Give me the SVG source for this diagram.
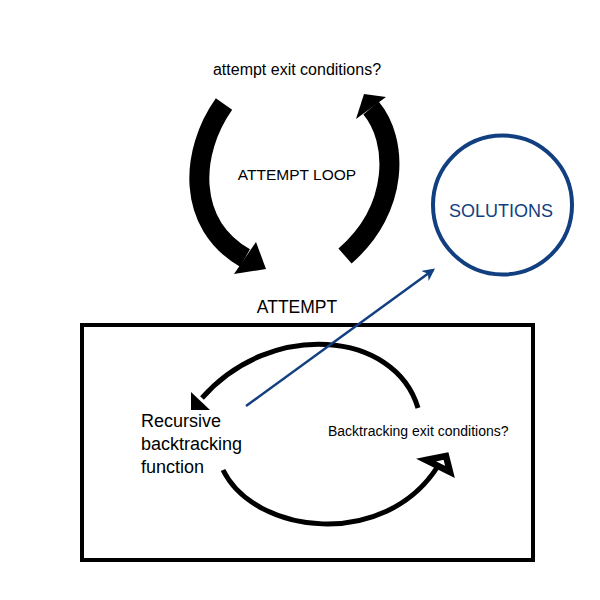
<svg xmlns="http://www.w3.org/2000/svg" width="600" height="600" viewBox="0 0 600 600">
<style>
text{font-family:"Liberation Sans",Arial,sans-serif;fill:#000}
.big{fill:none;stroke:#000;stroke-width:20}
.loop{fill:none;stroke:#000;stroke-width:5}
.head{fill:none;stroke:#000;stroke-width:6.5;stroke-linejoin:miter}
.blue{fill:#123F80}
</style>
<defs>
<marker id="bluehead" viewBox="0 0 10 10" refX="8" refY="5" markerWidth="5" markerHeight="5" orient="auto" markerUnits="strokeWidth">
<path d="M0,0 L10,5 L0,10 L3,5 Z" fill="#123F80"/>
</marker>
</defs>
<rect width="600" height="600" fill="#fff"/>
<g id="attempt-exit"><text x="297" y="75" font-size="16" text-anchor="middle">attempt exit conditions?</text></g>
<g id="attempt-loop"><text x="297" y="180" font-size="15.5" text-anchor="middle">ATTEMPT LOOP</text></g>
<g id="attempt-label"><text x="297" y="313" font-size="17.5" text-anchor="middle">ATTEMPT</text></g>
<g id="solutions">
<circle cx="502.5" cy="205" r="69.5" fill="none" stroke="#123F80" stroke-width="4"/>
<text class="blue" x="501" y="217" font-size="18" text-anchor="middle">SOLUTIONS</text>
</g>
<g id="attempt-box"><rect x="82" y="325" width="451" height="235" fill="none" stroke="#000" stroke-width="4"/></g>
<g id="recursive">
<text x="141" y="427" font-size="18">Recursive</text>
<text x="141" y="450" font-size="18">backtracking</text>
<text x="141" y="473" font-size="18">function</text>
</g>
<g id="backtracking-exit"><text x="328" y="436" font-size="14">Backtracking exit conditions?</text></g>
<g id="connectors">
<path class="big" d="M224,104 C190,152 186,224 245,258"/>
<polygon points="256,242 234,274 266,269"/>
<path class="big" d="M345,256 C400,208 398,140 371,108"/>
<polygon points="386,97 356,119 364,94"/>
<path class="loop" d="M418,408 C395,330 270,320 202,398"/>
<polygon points="191,410 210,410 191,392" fill="#000"/>
<path class="loop" d="M223,470 C255,535 385,550 438,466"/>
<polygon class="head" points="426,460 446,456 450,472"/>
<line x1="246" y1="406" x2="433" y2="270" stroke="#123F80" stroke-width="2.5" marker-end="url(#bluehead)"/>
</g>
</svg>
